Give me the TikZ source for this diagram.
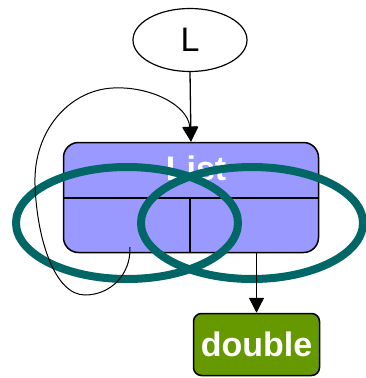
\documentclass[tikz,border=0pt]{standalone}
\usepackage{fontspec}
\setmainfont{Liberation Sans}
\usetikzlibrary{shapes,arrows.meta,calc}

\definecolor{listblue}{RGB}{153,153,255}
\definecolor{dblgreen}{RGB}{102,153,0}
\definecolor{ringteal}{RGB}{0,102,102}

\begin{document}
\begin{tikzpicture}[x=1pt,y=-1pt,
    bigtip/.style={-{Triangle[length=15pt,width=15pt]}, line width=1.3pt},
    ring/.style={draw=ringteal, line width=8pt},
    bigtext/.style={font=\fontsize{34}{34}\selectfont},
    boldtext/.style={text=white, font=\bfseries\fontsize{34}{34}\selectfont}]
  \useasboundingbox (0,0) rectangle (366,378);

  %% Variable name
  \node[draw, ellipse, line width=1.2pt, minimum width=114pt, minimum height=63pt,
        inner sep=0pt, bigtext] (L) at (190,40) {L};

  %% The list object with its cells
  \node[draw, fill=listblue, rounded corners=15pt, line width=1.5pt,
        minimum width=255pt, minimum height=110pt, inner sep=0pt] (List) at (191,197.5) {};
  \node[boldtext] (ListName) at (196,168) {List};
  \draw[line width=1.5pt] (List.west |- 0,198) -- (List.east |- 0,198);
  \draw[line width=1.5pt] (190,198) -- (List.south -| 190,0);

  %% Element type
  \node[draw, fill=dblgreen, rounded corners=8pt, line width=1.5pt,
        minimum width=126pt, minimum height=62pt, inner sep=0pt,
        boldtext] (Double) at (256.5,344.5) {double};

  %% Two overlapping rings
  \path[ring] (127,223) ellipse [x radius=111pt, y radius=56pt];
  \path[ring] (252,223) ellipse [x radius=111pt, y radius=56pt];

  %% References
  \coordinate (Self) at (130,247);
  \draw[bigtip] (L.south) -- (List.north);
  \draw[bigtip, line width=1pt] (Self) .. controls (131,275) and (110,295) .. (85,295)
        .. controls (55,295) and (37,240) .. (35,185)
        .. controls (33,130) and (70,90) .. (113,88)
        .. controls (150,86) and (188,105) .. (List.north);
  \draw[bigtip] (List.south -| Double.north) -- (Double.north);
\end{tikzpicture}
\end{document}
